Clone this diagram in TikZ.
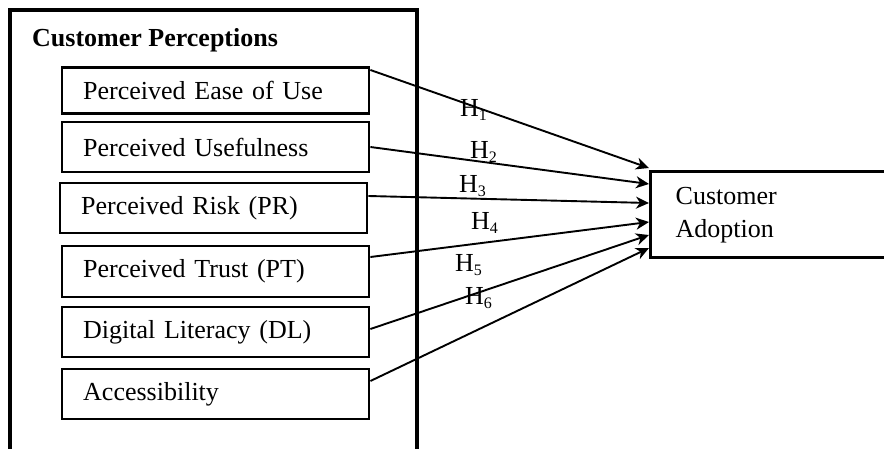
\documentclass[tikz,border=0pt]{standalone}
\usepackage{fontspec}
\setmainfont{Liberation Serif}
\usetikzlibrary{arrows.meta}
\tikzset{
  factor/.style={draw, line width=2.4pt, minimum width=307pt, text width=265pt,
    align=left, inner xsep=21pt, inner ysep=0pt, anchor=west},
  arr/.style={-{Stealth[length=13pt,width=12pt,inset=4pt]}, line width=1.9pt},
  hyp/.style={anchor=base west, inner sep=0pt}
}
\begin{document}
\begin{tikzpicture}[x=1pt,y=-1pt,font=\fontsize{26}{33}\selectfont]
\useasboundingbox (0,0) rectangle (884,449);
\clip (0,0) rectangle (884,449);

% outer frame, open at the bottom
\draw [line width=3.4pt] (10,460) -- (10,10) -- (417,10) -- (417,460);
\node [anchor=base west, inner sep=0pt, font=\fontsize{26}{30}\selectfont\bfseries] (title) at (32,47) {Customer Perceptions};

\node [factor, minimum height=46pt] (b1) at (61,90.5) {Perceived Ease of Use};
\node [factor, minimum height=50pt] (b2) at (61,147) {Perceived Usefulness};
\node [factor, minimum height=50pt] (b3) at (59,208) {Perceived Risk (PR)};
\node [factor, minimum height=51pt] (b4) at (61,271.5) {Perceived Trust (PT)};
\node [factor, minimum height=50pt] (b5) at (61,332) {Digital Literacy (DL)};
\node [factor, minimum height=50pt] (b6) at (61,394) {Accessibility};

\node [draw, line width=3.4pt, anchor=north west, minimum width=250pt, minimum height=86pt,
  text width=200pt, align=left, inner xsep=21pt, font=\fontsize{26}{33}\selectfont] (adopt) at (649,170) {Customer\\Adoption};

\foreach \n/\ys/\ye in {1/70/168, 2/147/184, 3/196/203, 4/257/222, 5/329/235, 6/381/248} {
\draw [arr] (b\n.east |- 0,\ys) -- (adopt.west |- 0,\ye);}

\foreach \n/\x/\y in {1/460/117, 2/470/159, 3/459/193, 4/471/230, 5/455/272, 6/465/305} {
\node [hyp] (h\n) at (\x,\y) {H\raisebox{-4pt}{\fontsize{16}{16}\selectfont\n}};}
\end{tikzpicture}
\end{document}
